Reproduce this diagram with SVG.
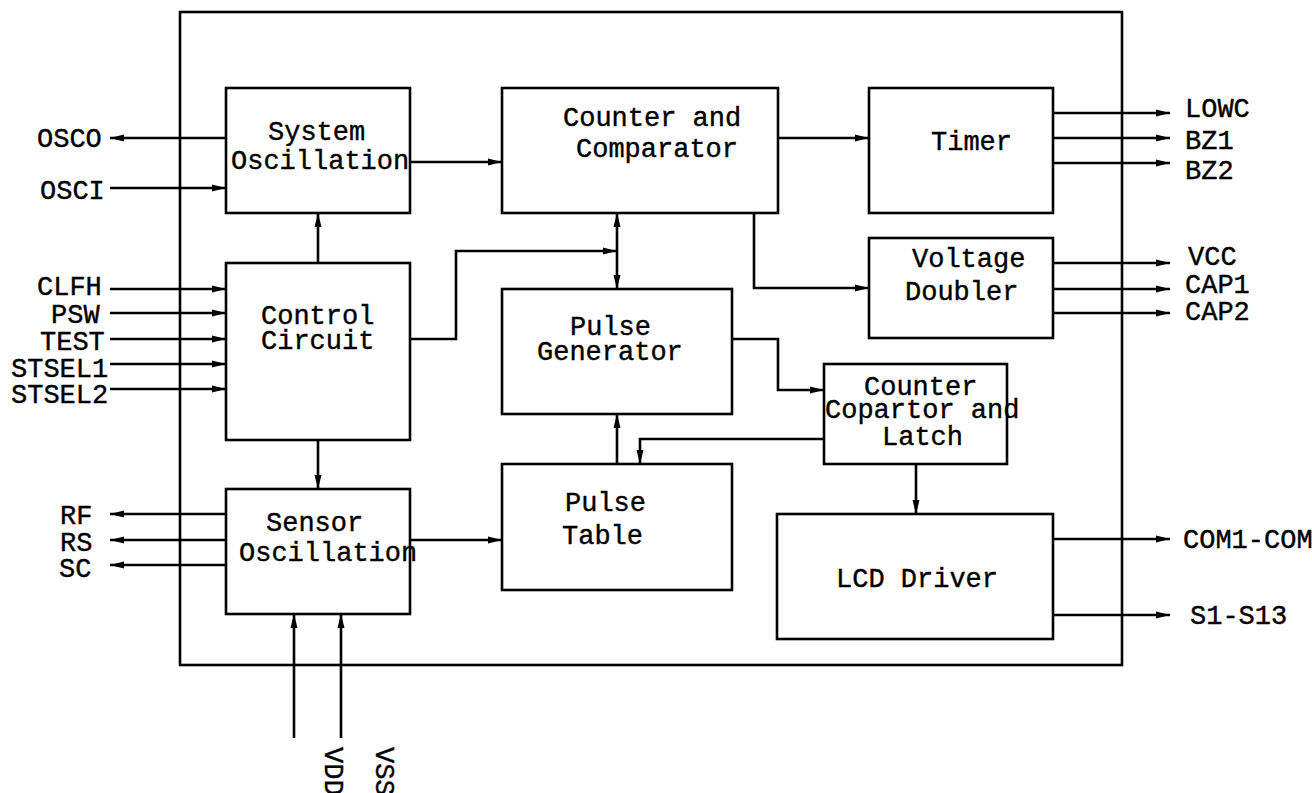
<svg xmlns="http://www.w3.org/2000/svg" width="1312" height="793" viewBox="0 0 1312 793">
<style>
text{font-family:"Liberation Mono","Courier New",monospace;font-size:27px;fill:#000;stroke:#000;stroke-width:0.4}
.box{fill:#fff;stroke:#000;stroke-width:2.6}
.frame{fill:none;stroke:#000;stroke-width:2.6}
.c path{fill:none;stroke:#000;stroke-width:2.6}
.a{marker-end:url(#ah)}
</style>
<defs>
<marker id="ah" markerUnits="userSpaceOnUse" markerWidth="15" markerHeight="9" refX="14" refY="4.5" orient="auto">
<path d="M0,1 L14,4.5 L0,8 Z" fill="#000"/>
</marker>
</defs>
<rect class="frame" x="180" y="12" width="942" height="653"/>
<g id="connectors" class="c">
<path class="a" d="M226,138 H110"/>
<path class="a" d="M110,188 H226"/>
<path class="a" d="M410,162 H502"/>
<path class="a" d="M778,138 H869"/>
<path class="a" d="M1053,113 H1170"/>
<path class="a" d="M1053,138 H1170"/>
<path class="a" d="M1053,163 H1170"/>
<path class="a" d="M754,213 V288 H869"/>
<path class="a" d="M1053,263 H1170"/>
<path class="a" d="M1053,289 H1170"/>
<path class="a" d="M1053,313 H1170"/>
<path class="a" d="M318,263 V213"/>
<path class="a" d="M110,289 H226"/>
<path class="a" d="M110,313 H226"/>
<path class="a" d="M110,339 H226"/>
<path class="a" d="M110,364 H226"/>
<path class="a" d="M110,389 H226"/>
<path class="a" d="M410,339 H456 V251 H617"/>
<path class="a" d="M617,250 V213"/>
<path class="a" d="M617,250 V289"/>
<path class="a" d="M732,339 H778 V390 H824"/>
<path class="a" d="M617,464 V414"/>
<path class="a" d="M824,439 H640 V464"/>
<path class="a" d="M318,440 V489"/>
<path class="a" d="M226,514 H110"/>
<path class="a" d="M226,540 H110"/>
<path class="a" d="M226,565 H110"/>
<path class="a" d="M410,540 H502"/>
<path class="a" d="M916,464 V514"/>
<path class="a" d="M1053,539 H1170"/>
<path class="a" d="M1053,615 H1170"/>
<path class="a" d="M294,738 V614"/>
<path class="a" d="M341,738 V614"/>
</g>
<g id="labels">
<text x="37" y="147">OSCO</text>
<text x="40" y="199">OSCI</text>
<text x="37" y="295">CLFH</text>
<text x="51" y="323">PSW</text>
<text x="40" y="350">TEST</text>
<text x="11" y="377">STSEL1</text>
<text x="11" y="403">STSEL2</text>
<text x="60" y="524">RF</text>
<text x="60" y="551">RS</text>
<text x="59" y="577">SC</text>
<text x="1185" y="117">LOWC</text>
<text x="1185" y="149">BZ1</text>
<text x="1185" y="179">BZ2</text>
<text x="1188" y="265">VCC</text>
<text x="1185" y="293">CAP1</text>
<text x="1185" y="320">CAP2</text>
<text x="1183" y="548">COM1-COM</text>
<text x="1190" y="624">S1-S13</text>
<text transform="translate(325,747) rotate(90)">VDD</text>
<text transform="translate(376,747) rotate(90)">VSS</text>
</g>
<g id="system-oscillation">
<rect class="box" x="226" y="88" width="184" height="125"/>
<text x="268" y="140">System</text>
<text x="231" y="169">Oscillation</text>
</g>
<g id="counter-comparator">
<rect class="box" x="502" y="88" width="276" height="125"/>
<text x="563" y="126">Counter and</text>
<text x="576" y="157">Comparator</text>
</g>
<g id="timer">
<rect class="box" x="869" y="88" width="184" height="125"/>
<text x="931" y="150">Timer</text>
</g>
<g id="voltage-doubler">
<rect class="box" x="869" y="238" width="184" height="100"/>
<text x="912" y="267">Voltage</text>
<text x="905" y="300">Doubler</text>
</g>
<g id="control-circuit">
<rect class="box" x="226" y="263" width="184" height="177"/>
<text x="261" y="324">Control</text>
<text x="261" y="349">Circuit</text>
</g>
<g id="pulse-generator">
<rect class="box" x="502" y="289" width="230" height="125"/>
<text x="570" y="335">Pulse</text>
<text x="537" y="360">Generator</text>
</g>
<g id="counter-copartor-latch">
<rect class="box" x="824" y="364" width="183" height="100"/>
<text x="864" y="395">Counter</text>
<text x="825" y="418">Copartor and</text>
<text x="882" y="445">Latch</text>
</g>
<g id="sensor-oscillation">
<rect class="box" x="226" y="489" width="184" height="125"/>
<text x="266" y="531">Sensor</text>
<text x="239" y="561">Oscillation</text>
</g>
<g id="pulse-table">
<rect class="box" x="502" y="464" width="230" height="126"/>
<text x="565" y="511">Pulse</text>
<text x="562" y="544">Table</text>
</g>
<g id="lcd-driver">
<rect class="box" x="777" y="514" width="276" height="125"/>
<text x="836" y="587">LCD Driver</text>
</g>
</svg>
